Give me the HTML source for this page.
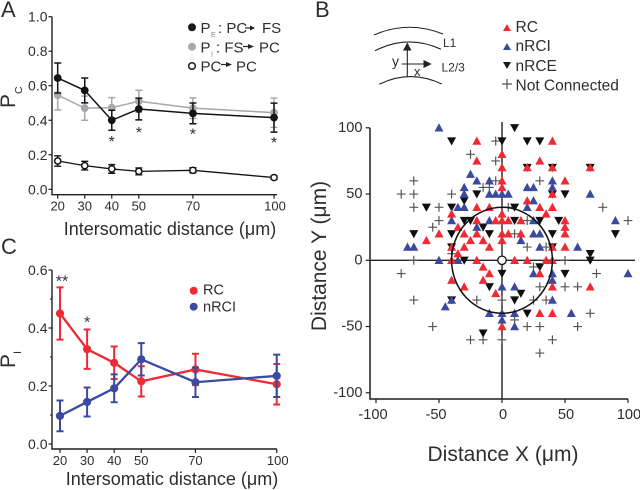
<!DOCTYPE html>
<html>
<head>
<meta charset="utf-8">
<style>
html,body{margin:0;padding:0;background:#fff;}
svg{display:block;font-family:"Liberation Sans",sans-serif;fill:#2e2e2e;filter:blur(0.3px);}
</style>
</head>
<body>
<svg id="fig" xmlns="http://www.w3.org/2000/svg" width="640" height="490" viewBox="0 0 640 490">
  <text x="1" y="17" font-size="22">A</text>
  <text x="315" y="17" font-size="22">B</text>
  <text x="1" y="254" font-size="22">C</text>

  <text x="170" y="235" font-size="18" text-anchor="middle">Intersomatic distance (μm)</text>
  <text transform="translate(15,108) rotate(-90)" font-size="21">P<tspan font-size="10.5" dy="7">C</tspan></text>
  <text x="172" y="485" font-size="18" text-anchor="middle">Intersomatic distance (μm)</text>
  <text transform="translate(15,368) rotate(-90)" font-size="21">P<tspan font-size="11" dy="6">I</tspan></text>
  <text x="503" y="461" font-size="21" text-anchor="middle">Distance X (μm)</text>
  <text transform="translate(326,256) rotate(-90)" font-size="21" text-anchor="middle">Distance Y (μm)</text>

  <g font-size="15">
    <circle cx="192" cy="27.3" r="4" fill="#1a1a1a"/>
    <text x="200.5" y="33">P</text>
    <text x="211" y="37" font-size="7" fill="#888">E</text>
    <text x="218" y="33">: PC</text>
    <path d="M245 28H251" stroke="#222" stroke-width="1.2"/>
    <polygon points="250,25.5 255,28 250,30.5" fill="#222"/>
    <text x="262" y="33">FS</text>

    <circle cx="192" cy="46.7" r="4" fill="#a6a8ab"/>
    <text x="200.5" y="52.5">P</text>
    <text x="211" y="56.5" font-size="7" fill="#888">I</text>
    <text x="216" y="52.5">: FS</text>
    <path d="M243 46.5H249" stroke="#222" stroke-width="1.2"/>
    <polygon points="248,44 254,46.5 248,49" fill="#222"/>
    <text x="259" y="52.5">PC</text>

    <circle cx="192" cy="66" r="3.3" fill="#fff" stroke="#1a1a1a" stroke-width="1.5"/>
    <text x="200.5" y="71.5">PC</text>
    <path d="M221 64.5H227" stroke="#222" stroke-width="1.2"/>
    <polygon points="226,62 232,64.5 226,67" fill="#222"/>
    <text x="236" y="71.5">PC</text>
  </g>

  <g font-size="14.5">
    <circle cx="193.7" cy="290.7" r="4" fill="#ee2a35"/>
    <text x="203" y="294.5">RC</text>
    <circle cx="193.7" cy="306.7" r="4" fill="#3a4a9f"/>
    <text x="203" y="311.5">nRCI</text>
  </g>

  <g font-size="15.5">
    <polygon points="507,24 511,31 503,31" fill="#ee2a35"/>
    <text x="515.5" y="32">RC</text>
    <polygon points="507,43 511,50 503,50" fill="#3a4a9f"/>
    <text x="515.5" y="51">nRCI</text>
    <polygon points="503,62 511,62 507,69" fill="#1a1a1a"/>
    <text x="515.5" y="71">nRCE</text>
    <path d="M502 84H512M507 79V89" stroke="#555" stroke-width="1.2" fill="none"/>
    <text x="515.5" y="90.5">Not Connected</text>
  </g>

  <g>
    <path d="M374 35Q408 20 443 34" fill="none" stroke="#222" stroke-width="1.1"/>
    <path d="M375 50.7Q408 34 441 49.3" fill="none" stroke="#222" stroke-width="1.1"/>
    <path d="M379.3 84.3Q410 69 441.7 84" fill="none" stroke="#222" stroke-width="1.1"/>
    <path d="M407.3 77V48" stroke="#222" stroke-width="1.1" fill="none"/>
    <polygon points="407.3,42.5 411.5,50.5 403,50.5" fill="#222"/>
    <path d="M401.7 64H426" stroke="#222" stroke-width="1.1" fill="none"/>
    <polygon points="431.7,64 423.5,60 423.5,68" fill="#222"/>
    <text x="392" y="66" font-size="14">y</text>
    <text x="414" y="76" font-size="13">x</text>
    <text x="443" y="47" font-size="12">L1</text>
    <text x="441.5" y="71.5" font-size="12">L2/3</text>
  </g>

  <g id="panelA"></g>
  <g id="panelC"></g>
  <g id="panelB"></g>
</svg>

<script>
// Shared categories
const distances = [20, 30, 40, 50, 70, 100];

// Panel A values
const peMean = [0.645, 0.573, 0.40, 0.465, 0.44, 0.415];
const peErr = [0.087, 0.072, 0.058, 0.063, 0.06, 0.084];
const piMean = [0.546, 0.47, 0.473, 0.51, 0.47, 0.444];
const piErr = [0.086, 0.07, 0.058, 0.064, 0.06, 0.085];
const pcMean = [0.164, 0.137, 0.118, 0.104, 0.11, 0.068];
const pcErr = [0.03, 0.025, 0.025, 0.02, 0.015, 0.01];
const panelAYTicks = [0, 0.2, 0.4, 0.6, 0.8, 1.0];
const panelAStarDistances = [40, 50, 70, 100];
const panelAStarValues = [0.29, 0.345, 0.335, 0.285];

// Panel C values
const rcMean = [0.45, 0.327, 0.28, 0.216, 0.257, 0.206];
const rcErr = [0.09, 0.068, 0.056, 0.052, 0.054, 0.07];
const nrciMean = [0.097, 0.145, 0.192, 0.292, 0.213, 0.235];
const nrciErr = [0.053, 0.05, 0.048, 0.056, 0.051, 0.073];
const panelCYTicks = [0, 0.2, 0.4, 0.6];
const panelCMinorTicks = [0.1, 0.3, 0.5];
const panelCStarDistances = [20, 30];
const panelCStarValues = [0.57, 0.43];
const panelCStarLabels = ['**', '*'];

// Panel B values: [distance X, distance Y] in micrometres
const bTicks = [-100, -50, 0, 50, 100];
const connectionCircleRadius = [40];
const notConnected = [[-5,90],[-25,80],[-5,75],[-5,60],[-70,60],[-15,55],[-10,55],[-80,50],[-70,50],[-40,50],[-70,40],[-50,40],[-50,30],[-55,25],[-40,5],[-70,0],[30,60],[5,40],[80,40],[20,30],[100,30],[10,20],[20,10],[35,10],[50,0],[25,-5],[75,-10],[30,-20],[50,-20],[60,-20],[0,-30],[25,-30],[35,-30],[70,-40],[10,-45],[20,-50],[30,-50],[60,-50],[0,-60],[40,-60],[30,-70],[-80,-10],[-70,-30],[-20,-30],[-55,-50],[-25,-60],[-15,-60]];
const nrcePoints = [[-40,90],[-20,50],[-30,45],[-40,40],[-60,40],[-30,30],[-25,30],[-15,25],[-40,20],[-10,20],[-70,20],[-40,10],[-30,0],[10,100],[0,90],[20,90],[30,90],[20,70],[40,70],[70,70],[40,50],[50,50],[10,40],[10,30],[30,30],[45,30],[40,20],[90,20],[40,10],[70,5],[70,0],[30,-5],[0,-10],[50,-10],[15,-25],[10,-30],[20,-40],[-10,-20],[-40,-30],[-15,-55]];
const nrciPoints = [[-50,100],[-25,65],[-20,60],[-10,60],[-30,55],[-30,50],[-10,50],[-5,50],[-35,40],[-30,40],[-40,30],[-10,30],[-20,25],[-75,10],[-70,10],[-50,0],[-35,0],[40,60],[20,55],[25,55],[40,55],[0,50],[5,50],[70,50],[25,45],[20,40],[25,30],[90,30],[25,20],[30,20],[15,15],[30,10],[60,10],[25,-10],[40,-10],[40,-15],[0,-20],[10,-20],[40,-30],[0,-40],[10,-40],[55,-40],[10,-50],[100,-10],[-40,-30],[-45,-35],[-10,-40],[0,-45]];
const rcPoints = [[-20,90],[40,90],[-20,75],[0,80],[30,75],[0,70],[20,70],[40,70],[70,70],[-20,40],[-10,40],[-40,35],[-35,25],[-20,30],[-5,30],[-30,20],[-20,20],[-50,20],[-60,15],[-25,15],[-15,15],[-40,10],[-30,10],[-10,10],[-35,5],[-40,0],[-20,0],[0,60],[50,60],[0,55],[40,50],[20,45],[30,40],[40,40],[0,35],[35,35],[0,30],[5,30],[15,30],[50,30],[50,25],[0,20],[5,20],[15,20],[50,20],[0,15],[40,10],[50,10],[10,0],[20,0],[35,0],[40,0],[30,-10],[40,-20],[70,-20],[30,-40],[40,-40],[0,-50],[-15,-5],[-10,-10],[-15,-15],[-40,-15],[-30,-20],[-5,-25]];

const NS = 'http://www.w3.org/2000/svg';
function make(parent, tag, name, attrs) {
  const el = document.createElementNS(NS, tag);
  
  
  for (const k in attrs) el.setAttribute(k, attrs[k]);
  parent.appendChild(el);
  return el;
}
function label(parent, name, x, y, str, size, anchor) {
  const t = make(parent, 'text', name, {x: x, y: y, 'font-size': size, 'text-anchor': anchor});
  t.textContent = str;
  return t;
}

// Axis functions
const xA = v => 57.7 + (v - 20) * 2.704;
const yA = v => 189.3 - v * 172.6;
const xC = v => 60 + (v - 20) * 2.709;
const yC = v => 444 - v * 290;
const xB = v => 502 + v * 1.26;
const yB = v => 260.3 - v * 1.325;

function lineChartAxes(g, prefix, xFn, yFn, left, top, bottom, right, yTicks, tickY, xLabelY) {
  make(g, 'path', prefix + '-y-axis', {d: `M${left} ${top}V${bottom}`, stroke: '#1f1f1f', 'stroke-width': 1.4, fill: 'none'});
  make(g, 'path', prefix + '-x-axis', {d: `M${left - 0.7} ${bottom}H${right}`, stroke: '#1f1f1f', 'stroke-width': 1.4, fill: 'none'});
  yTicks.forEach(v => {
    make(g, 'path', prefix + '-y-tick', {d: `M${left - 3.5} ${yFn(v)}H${left}`, stroke: '#1f1f1f', 'stroke-width': 1.2, fill: 'none'});
    label(g, prefix + '-y-tick-label', left - 4.5, yFn(v) + 5, v.toFixed(1), 14, 'end');
  });
  distances.forEach(d => {
    make(g, 'path', prefix + '-x-tick', {d: `M${xFn(d)} ${bottom}v4`, stroke: '#1f1f1f', 'stroke-width': 1.2, fill: 'none'});
    label(g, prefix + '-x-tick-label', xFn(d) + (d === 100 ? 1 : 0), xLabelY, String(d), 13, 'middle');
  });
}
function series(g, name, xFn, yFn, mean, err, color, lineW, errW, r, fill, markerStroke) {
  distances.forEach((d, i) => {
    const x = xFn(d), hi = yFn(mean[i] + err[i]), lo = yFn(mean[i] - err[i]);
    make(g, 'path', name + '-error-bar', {
      d: `M${x} ${hi}V${lo}M${x - 3.5} ${hi}h7M${x - 3.5} ${lo}h7`,
      stroke: color, 'stroke-width': errW, fill: 'none'
    });
  });
  const pts = distances.map((d, i) => xFn(d) + ',' + yFn(mean[i])).join(' ');
  make(g, 'polyline', name + '-line', {points: pts, stroke: color, 'stroke-width': lineW, fill: 'none'});
  distances.forEach((d, i) => {
    make(g, 'circle', name + '-point', {cx: xFn(d), cy: yFn(mean[i]), r: r, fill: fill, stroke: markerStroke, 'stroke-width': markerStroke === 'none' ? 0 : 1.5});
  });
}

// Panel A
const gA = document.getElementById('panelA');
lineChartAxes(gA, 'panel-a', xA, yA, 52, 16.7, 194.7, 277, panelAYTicks, 0, 210.5);
series(gA, 'pi-series', xA, yA, piMean, piErr, '#a6a8ab', 1.5, 1.5, 3.9, '#a6a8ab', 'none');
series(gA, 'pe-series', xA, yA, peMean, peErr, '#141414', 1.5, 1.5, 3.9, '#141414', 'none');
series(gA, 'pc-series', xA, yA, pcMean, pcErr, '#141414', 1.3, 1.4, 3.1, '#fff', '#141414');
panelAStarDistances.forEach((d, i) => {
  label(gA, 'significance-star', xA(d), yA(panelAStarValues[i]) + 8, '*', 16, 'middle');
});

// Panel C
const gC = document.getElementById('panelC');
lineChartAxes(gC, 'panel-c', xC, yC, 52, 270, 449, 277, panelCYTicks, 0, 465);
panelCMinorTicks.forEach(v => {
  make(gC, 'path', 'panel-c-minor-tick', {d: `M50 ${yC(v)}H52`, stroke: '#1f1f1f', 'stroke-width': 1, fill: 'none'});
});
series(gC, 'rc-series', xC, yC, rcMean, rcErr, '#ee2a35', 2.3, 2, 4.1, '#ee2a35', 'none');
series(gC, 'nrci-series', xC, yC, nrciMean, nrciErr, '#3a4a9f', 2.3, 2, 4.1, '#3a4a9f', 'none');
panelCStarDistances.forEach((d, i) => {
  label(gC, 'significance-star', xC(d) + (i === 0 ? 2 : 0), yC(panelCStarValues[i]) + 8, panelCStarLabels[i], 16, 'middle');
});

// Panel B
const gB = document.getElementById('panelB');
make(gB, 'path', 'panel-b-y-axis', {d: 'M370 128V399', stroke: '#1f1f1f', 'stroke-width': 1.5, fill: 'none'});
make(gB, 'path', 'panel-b-x-axis', {d: 'M369.3 399H628', stroke: '#1f1f1f', 'stroke-width': 1.5, fill: 'none'});
bTicks.forEach(v => {
  make(gB, 'path', 'panel-b-y-tick', {d: `M365.7 ${yB(v)}H370`, stroke: '#1f1f1f', 'stroke-width': 1.2, fill: 'none'});
  label(gB, 'panel-b-y-tick-label', 362.5, yB(v) + 4, String(v), 14.6, 'end');
  make(gB, 'path', 'panel-b-x-tick', {d: `M${xB(v)} 399v4`, stroke: '#1f1f1f', 'stroke-width': 1.2, fill: 'none'});
  label(gB, 'panel-b-x-tick-label', xB(v) + (v < 0 ? -3 : 1), 419, String(v), 14.6, 'middle');
});
make(gB, 'path', 'origin-horizontal-line', {d: `M370 ${yB(0)}H635`, stroke: '#222', 'stroke-width': 1.4, fill: 'none'});
make(gB, 'path', 'origin-vertical-line', {d: `M${xB(0)} 122V399`, stroke: '#222', 'stroke-width': 1.4, fill: 'none'});
notConnected.forEach(p => {
  const x = xB(p[0]), y = yB(p[1]);
  make(gB, 'path', 'not-connected-point', {d: `M${x - 4.4} ${y}h8.8M${x} ${y - 4.4}v8.8`, stroke: '#555', 'stroke-width': 1.2, fill: 'none'});
});
nrcePoints.forEach(p => {
  const x = xB(p[0]), y = yB(p[1]);
  make(gB, 'polygon', 'nrce-point', {points: `${x - 4.5},${y - 3.7} ${x + 4.5},${y - 3.7} ${x},${y + 4.5}`, fill: '#0f0f0f'});
});
nrciPoints.forEach(p => {
  const x = xB(p[0]), y = yB(p[1]);
  make(gB, 'polygon', 'nrci-point', {points: `${x},${y - 4.5} ${x + 4.5},${y + 3.7} ${x - 4.5},${y + 3.7}`, fill: '#3a4a9f'});
});
rcPoints.forEach(p => {
  const x = xB(p[0]), y = yB(p[1]);
  make(gB, 'polygon', 'rc-point', {points: `${x},${y - 4.5} ${x + 4.5},${y + 3.7} ${x - 4.5},${y + 3.7}`, fill: '#ee2a35'});
});
connectionCircleRadius.forEach(r => {
  make(gB, 'ellipse', 'connection-radius-circle', {cx: xB(0), cy: yB(0), rx: r * 1.26, ry: r * 1.325, fill: 'none', stroke: '#111', 'stroke-width': 1.5});
});
make(gB, 'circle', 'origin-cell-marker', {cx: xB(0), cy: yB(0), r: 4.2, fill: '#fff', stroke: '#111', 'stroke-width': 1.3});
</script>
</body>
</html>
